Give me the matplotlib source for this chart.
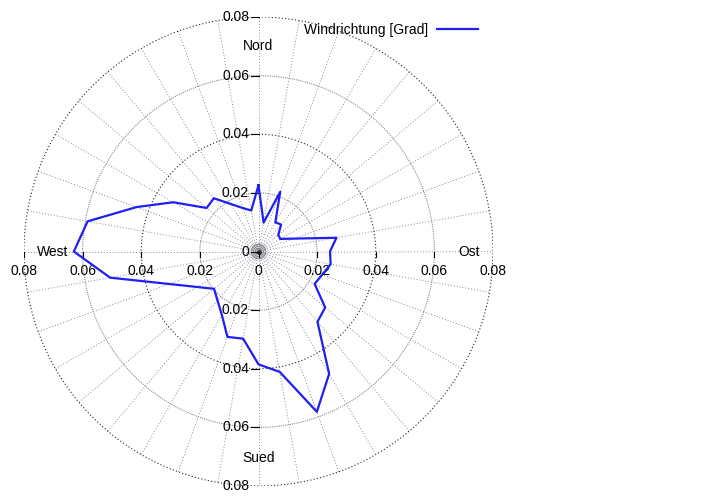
"""
Windrose in gnuplot style: relative frequency of wind direction.
"""

import matplotlib
matplotlib.use("Agg")
import matplotlib.pyplot as plt
from matplotlib.lines import Line2D
import numpy as np

plt.rcParams["font.family"] = ["Liberation Sans", "DejaVu Sans"]
plt.rcParams["font.size"] = 10

# ---------------------------------------------------------------------------
# Data (direction in degrees, clockwise from north; relative frequency)
# ---------------------------------------------------------------------------

direction_deg = [0, 10, 20, 30, 40, 50, 60, 80, 90, 100, 120, 130, 140, 150,
                 160, 170, 180, 190, 200, 210, 230, 260, 270, 280, 290, 300,
                 310, 320, 340, 350, 360]
frequency = [0.0226, 0.0100, 0.0217, 0.0115, 0.0120, 0.0088, 0.0086, 0.0270,
             0.0244, 0.0250, 0.0221, 0.0297, 0.0313, 0.0482, 0.0582, 0.0417,
             0.0385, 0.0302, 0.0310, 0.0250, 0.0198, 0.0514, 0.0630, 0.0592,
             0.0443, 0.0336, 0.0231, 0.0237, 0.0158, 0.0142, 0.0226]

rmax = 0.08
ring_values = [0.02, 0.04, 0.06, 0.08]
tick_values = [-0.08, -0.06, -0.04, -0.02, 0.0, 0.02, 0.04, 0.06, 0.08]
compass = {"Nord": (0.0, 0.0701), "Ost": (0.0718, 0.0), "Sued": (0.0, -0.0705),
           "West": (-0.0701, 0.0)}

# ---------------------------------------------------------------------------
# Figure
# ---------------------------------------------------------------------------

fig = plt.figure(figsize=(7.2, 5.04), dpi=100)
ax = fig.add_axes([24 / 720, 18 / 504, 469 / 720, 469 / 504])
ax.set_xlim(-rmax, rmax)
ax.set_ylim(-rmax, rmax)
ax.set_aspect("equal")
ax.axis("off")

# spokes every 10 degrees
for a in np.deg2rad(np.arange(0, 360, 10)):
    ax.plot([0, rmax * np.sin(a)], [0, rmax * np.cos(a)],
            color="#8a8a9a", lw=0.7, ls=(0, (1, 2)), zorder=1)

# rings
t = np.linspace(0, 2 * np.pi, 400)
for rv in ring_values:
    col = "#222233" if rv in (0.04, 0.08) else "#8a8a8a"
    ax.plot(rv * np.sin(t), rv * np.cos(t), color=col, lw=0.8,
            ls=(0, (1, 2)) if col.startswith("#2") else (0, (1, 1)), zorder=1)
for rv in [0.0009, 0.0017, 0.0025]:
    ax.plot(rv * np.sin(t), rv * np.cos(t), color="#777777", lw=0.7, zorder=1)
ax.plot([0], [0], "o", color="#333333", ms=2.5, zorder=2)

# axis ticks and labels
for v in tick_values:
    ax.plot([v, v], [0, -0.0018], color="black", lw=0.8, zorder=2)
    ax.text(v, -0.0066, f"{abs(v):g}", ha="center", va="center")
    ax.plot([-0.0026, 0], [v, v], color="black", lw=0.8, zorder=2)
    ax.text(-0.0032, v, f"{abs(v):g}", ha="right", va="center")

for name, (cx, cy) in compass.items():
    ax.text(cx, cy, name, ha="center", va="center")

# data
theta = np.deg2rad(direction_deg)
r = np.array(frequency)
ax.plot(r * np.sin(theta), r * np.cos(theta), color="#1f1ff0", lw=1.6, zorder=3)

handle = Line2D([], [], color="#1f1ff0", lw=1.6)
ax.legend([handle], ["Windrichtung [Grad]"], loc="center right",
          bbox_to_anchor=(478 / 720, 1 - 30 / 504), bbox_transform=fig.transFigure,
          frameon=False, markerfirst=False, handlelength=2.95, handletextpad=0.65,
          borderpad=0, borderaxespad=0, fontsize=10)

fig.savefig("out.png", dpi=100)
